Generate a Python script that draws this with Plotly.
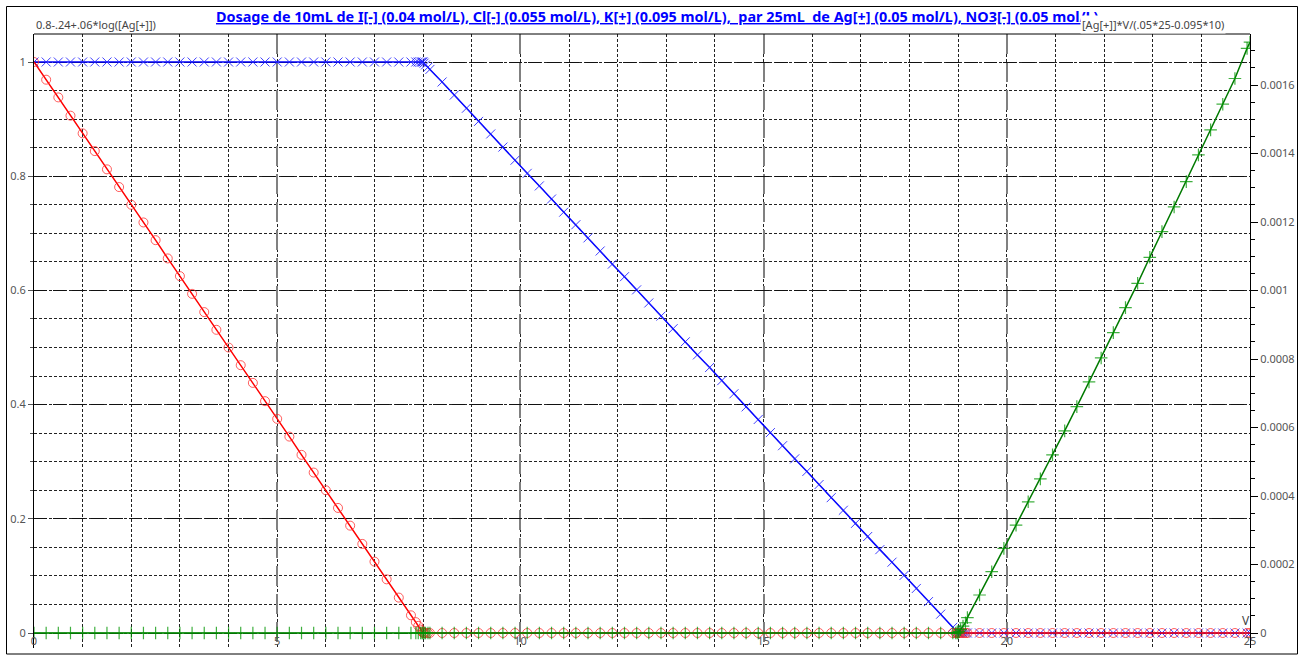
import plotly.graph_objects as go

# Volume of Ag+ solution added (mL)
V = [0, 0.25, 0.5, 0.75, 1, 1.25, 1.5, 1.75, 2, 2.25, 2.5, 2.75, 3, 3.25, 3.5, 3.75,
     4, 4.25, 4.5, 4.75, 5, 5.25, 5.5, 5.75, 6, 6.25, 6.5, 6.75, 7, 7.25, 7.5, 7.75,
     7.85, 7.9, 7.95, 7.98, 8.0, 8.02, 8.05, 8.1,
     8.14, 8.39, 8.64, 8.89, 9.14, 9.39, 9.64, 9.89, 10.14, 10.39, 10.64, 10.89,
     11.14, 11.39, 11.64, 11.89, 12.14, 12.39, 12.64, 12.89, 13.14, 13.39, 13.64, 13.89,
     14.14, 14.39, 14.64, 14.89, 15.14, 15.39, 15.64, 15.89, 16.14, 16.39, 16.64, 16.89,
     17.14, 17.39, 17.64, 17.89, 18.14, 18.39, 18.64, 18.89,
     18.95, 18.98, 19.0, 19.02, 19.05, 19.1, 19.15,
     19.19, 19.44, 19.69, 19.94, 20.19, 20.44, 20.69, 20.94, 21.19, 21.44, 21.69, 21.94,
     22.19, 22.44, 22.69, 22.94, 23.19, 23.44, 23.69, 23.94, 24.19, 24.44, 24.69, 24.94, 25.0]

# I[-] fraction (left axis)
iodide = [1, 0.969, 0.938, 0.906, 0.875, 0.844, 0.812, 0.781, 0.75, 0.719, 0.688, 0.656,
          0.625, 0.594, 0.562, 0.531, 0.5, 0.469, 0.438, 0.406, 0.375, 0.344, 0.312, 0.281,
          0.25, 0.219, 0.188, 0.156, 0.125, 0.094, 0.062, 0.031,
          0.019, 0.0125, 0.006, 0.0025, 0, 0, 0, 0,
          0, 0, 0, 0, 0, 0, 0, 0, 0, 0, 0, 0, 0, 0, 0, 0, 0, 0, 0, 0, 0, 0, 0, 0,
          0, 0, 0, 0, 0, 0, 0, 0, 0, 0, 0, 0, 0, 0, 0, 0, 0, 0, 0, 0,
          0, 0, 0, 0, 0, 0, 0,
          0, 0, 0, 0, 0, 0, 0, 0, 0, 0, 0, 0, 0, 0, 0, 0, 0, 0, 0, 0, 0, 0, 0, 0, 0]

# Cl[-] fraction (left axis)
chloride = [1, 1, 1, 1, 1, 1, 1, 1, 1, 1, 1, 1, 1, 1, 1, 1, 1, 1, 1, 1, 1, 1, 1, 1,
            1, 1, 1, 1, 1, 1, 1, 1,
            1, 1, 1, 1, 1, 0.998, 0.995, 0.991,
            0.987, 0.965, 0.942, 0.919, 0.896, 0.874, 0.851, 0.828, 0.805, 0.783, 0.760, 0.737,
            0.715, 0.692, 0.669, 0.646, 0.624, 0.601, 0.578, 0.555, 0.533, 0.510, 0.487, 0.465,
            0.442, 0.419, 0.396, 0.374, 0.351, 0.328, 0.305, 0.283, 0.260, 0.237, 0.215, 0.192,
            0.169, 0.146, 0.124, 0.101, 0.078, 0.055, 0.033, 0.010,
            0.005, 0.002, 0, 0, 0, 0, 0,
            0, 0, 0, 0, 0, 0, 0, 0, 0, 0, 0, 0, 0, 0, 0, 0, 0, 0, 0, 0, 0, 0, 0, 0, 0]

# [Ag+]*V/(.05*25-0.095*10) (right axis)
silver = [0, 0, 0, 0, 0, 0, 0, 0, 0, 0, 0, 0, 0, 0, 0, 0, 0, 0, 0, 0, 0, 0, 0, 0,
          0, 0, 0, 0, 0, 0, 0, 0,
          0, 0, 0, 0, 0, 0, 0, 0,
          0, 0, 0, 0, 0, 0, 0, 0, 0, 0, 0, 0, 0, 0, 0, 0, 0, 0, 0, 0, 0, 0, 0, 0,
          0, 0, 0, 0, 0, 0, 0, 0, 0, 0, 0, 0, 0, 0, 0, 0, 0, 0, 0, 0,
          0, 0, 0, 0.000004, 0.00001, 0.00002, 0.00003,
          0.000045, 0.000111, 0.000179, 0.000247, 0.000315, 0.000383, 0.00045, 0.00052,
          0.00059, 0.000661, 0.000733, 0.000803, 0.000877, 0.00095, 0.001021, 0.001097,
          0.001172, 0.001244, 0.001318, 0.001396, 0.001469, 0.001544, 0.001619, 0.001707,
          0.001725]

left_ticks = [0, 0.2, 0.4, 0.6, 0.8, 1]
left_labels = ["0", "0.2", "0.4", "0.6", "0.8", "1"]
right_ticks = [0, 0.0002, 0.0004, 0.0006, 0.0008, 0.001, 0.0012, 0.0014, 0.0016]
right_labels = ["0", "0.0002", "0.0004", "0.0006", "0.0008", "0.001", "0.0012", "0.0014", "0.0016"]
x_ticks = [0, 5, 10, 15, 20, 25]

TITLE = ("Dosage de 10mL de I[-] (0.04 mol/L), Cl[-] (0.055 mol/L), K[+] (0.095 mol/L),"
         "\u00a0\u00a0par 25mL\u00a0\u00a0de Ag[+] (0.05 mol/L), NO3[-] (0.05 mol/L)")

FONT = "Noto Sans"
TICKCOL = "#555555"

fig = go.Figure()

fig.add_trace(go.Scatter(
    x=V, y=chloride, mode="lines+markers", name="Cl[-]",
    line=dict(color="#0000ff", width=1.5),
    marker=dict(symbol="x-thin-open", size=9, color="rgba(30,30,255,0.85)",
                line=dict(width=1, color="rgba(30,30,255,0.85)")),
    yaxis="y", showlegend=False))

fig.add_trace(go.Scatter(
    x=V, y=iodide, mode="lines+markers", name="I[-]",
    line=dict(color="#ff0000", width=1.5),
    marker=dict(symbol="circle-open", size=9, color="rgba(255,40,40,0.75)",
                line=dict(width=1, color="rgba(255,40,40,0.75)")),
    yaxis="y", showlegend=False))

fig.add_trace(go.Scatter(
    x=V, y=silver, mode="lines+markers", name="Ag[+]",
    line=dict(color="#007a00", width=1.5),
    marker=dict(symbol="cross-thin-open", size=9, color="rgba(0,150,0,0.75)",
                line=dict(width=1.2, color="rgba(0,150,0,0.75)")),
    yaxis="y2", showlegend=False))

y_lo, y_hi = -0.02627, 1.04904
px2 = 0.0002 / 68.5
y2_lo, y2_hi = -15 * px2, 599 * px2

fig.update_layout(
    width=1304, height=655,
    margin=dict(l=34, r=54, t=34, b=7, autoexpand=False),
    paper_bgcolor="white", plot_bgcolor="white",
    font=dict(family=FONT, size=11, color=TICKCOL),
    xaxis=dict(
        range=[0, 25], anchor="free", position=15 / 614,
        tickvals=x_ticks, ticks="", showline=False, zeroline=False,
        tickfont=dict(size=11, color=TICKCOL),
        showgrid=True, gridcolor="#808080", gridwidth=2, griddash="20px,8px",
        minor=dict(dtick=1, showgrid=True, gridcolor="#222222", gridwidth=1,
                   griddash="3px,2px", ticks=""),
    ),
    yaxis=dict(
        range=[y_lo, y_hi], tickvals=left_ticks, ticktext=left_labels,
        ticks="outside", ticklen=5, tickcolor="#555555",
        showline=True, linecolor="black", linewidth=1, zeroline=False,
        tickfont=dict(size=11, color=TICKCOL),
        showgrid=True, gridcolor="#111111", gridwidth=1, griddash="13px,6px",
        minor=dict(dtick=0.05, tick0=0, showgrid=True, gridcolor="#222222",
                   gridwidth=1, griddash="3px,2px", ticks="outside", ticklen=3,
                   tickcolor="#555555"),
    ),
    yaxis2=dict(
        range=[y2_lo, y2_hi], overlaying="y", side="right", anchor="x",
        tickvals=right_ticks, ticktext=right_labels,
        ticks="outside", ticklen=7, tickcolor="black",
        showline=True, linecolor="black", linewidth=1, zeroline=False,
        showgrid=False, tickfont=dict(size=11, color=TICKCOL),
        minor=dict(dtick=0.00005, tick0=0, ticks="outside", ticklen=4,
                   tickcolor="black", showgrid=False),
    ),
    shapes=[
        dict(type="line", xref="paper", yref="paper", x0=0, x1=1, y0=1, y1=1,
             line=dict(color="black", width=1)),
        dict(type="rect", xref="paper", yref="paper",
             x0=(6.5 - 34) / 1216, x1=(1297.5 - 34) / 1216,
             y0=(648 - 654) / 614, y1=(648 - 6.5) / 614,
             line=dict(color="black", width=1), layer="above"),
    ],
    annotations=[
        dict(text="<b><u>" + TITLE + "</u></b>", xref="paper", yref="paper",
             x=(214 - 34) / 1216, y=(648 - 17) / 614, xanchor="left", yanchor="middle",
             showarrow=False, font=dict(family=FONT, size=14.4, color="#0000ff")),
        dict(text="[Ag[+]]*V/(.05*25-0.095*10)", xref="paper", yref="paper",
             x=(1080 - 34) / 1216, y=(648 - 25) / 614, xanchor="left", yanchor="middle",
             showarrow=False, bgcolor="white", borderpad=1,
             font=dict(family=FONT, size=11, color="#444444")),
        dict(text="0.8-.24+.06*log([Ag[+]])", xref="paper", yref="paper",
             x=0, y=(648 - 25) / 614, xanchor="left", yanchor="middle",
             showarrow=False, font=dict(family=FONT, size=11, color="#444444")),
        dict(text="V", xref="paper", yref="paper",
             x=(1246 - 34) / 1216, y=(648 - 620) / 614, xanchor="center", yanchor="middle",
             showarrow=False, font=dict(family=FONT, size=12, color="#444444")),
    ],
)

fig.write_html("out.html", config={"displayModeBar": False},
               post_script="document.body.style.margin='0px';")
